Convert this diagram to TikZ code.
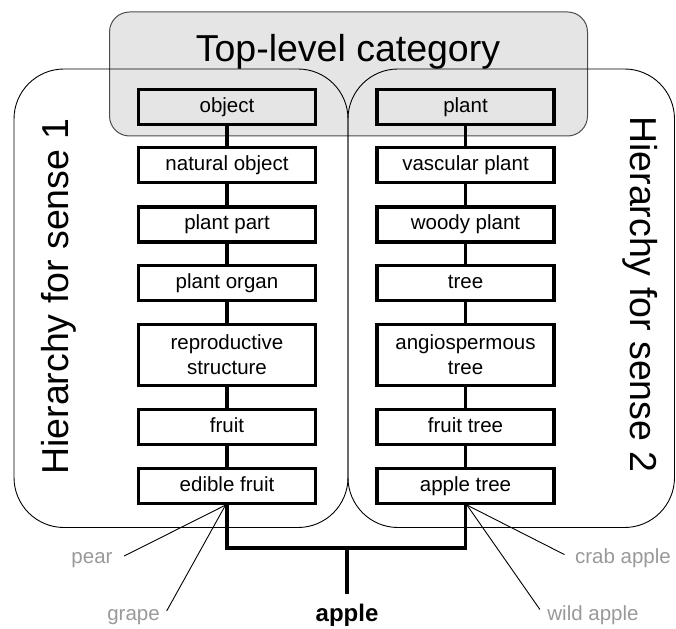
\documentclass[tikz,border=0pt]{standalone}
\usepackage{fontspec}
\setmainfont{Liberation Sans}
\begin{document}
\begin{tikzpicture}[x=1pt,y=-1pt,
  catbox/.style={draw=black!70, fill=black!10, line width=1pt, rounded corners=20pt},
  sensebox/.style={draw=black, line width=0.9pt, rounded corners=50pt},
  concept/.style={draw=black, line width=3.2pt, minimum width=177pt, minimum height=35pt,
    inner sep=0pt, align=center, font=\fontsize{20.5}{25}\selectfont},
  oneline/.style={concept, text height=15pt, text depth=4.3pt},
  link/.style={draw=black, line width=3.2pt},
  heading/.style={font=\fontsize{37.5}{44}\selectfont},
  hyponym/.style={text=black!40, font=\fontsize{20.5}{24}\selectfont},
  hypolink/.style={draw=black, line width=0.9pt}
]
\useasboundingbox (0,0) rectangle (676,628);

% top-level category band
\draw[catbox] (109.5,12) rectangle (587.5,136);
\node[heading, anchor=base] (top) at (348,62) {Top-level category};

% the two sense hierarchies
\draw[sensebox] (14,69) rectangle (348,527.5);
\draw[sensebox] (348,69) rectangle (674.5,527.5);
\node[heading, rotate=90, anchor=base] (sense1) at (68,296.5) {Hierarchy for sense 1};
\node[heading, rotate=-90, anchor=base] (sense2) at (630,294.5) {Hierarchy for sense 2};

% sense 1 chain
\node[oneline] (obj) at (227,107) {object};
\node[oneline] (nat) at (227,165) {natural object};
\node[oneline] (ppart) at (227,224.5) {plant part};
\node[oneline] (porg) at (227,283) {plant organ};
\node[concept, minimum height=61pt] (repr) at (227,355) {reproductive\\structure};
\node[oneline] (fruit) at (227,427) {fruit};
\node[oneline] (ef) at (227,486) {edible fruit};

% sense 2 chain
\node[oneline] (plant) at (465.5,107) {plant};
\node[oneline] (vasc) at (465.5,165) {vascular plant};
\node[oneline] (woody) at (465.5,224.5) {woody plant};
\node[oneline] (tree) at (465.5,283) {tree};
\node[concept, minimum height=61pt] (angio) at (465.5,355) {angiospermous\\tree};
\node[oneline] (ftree) at (465.5,427) {fruit tree};
\node[oneline] (at) at (465.5,486) {apple tree};

\draw[link] (obj) -- (nat);
\draw[link] (nat) -- (ppart);
\draw[link] (ppart) -- (porg);
\draw[link] (porg) -- (repr);
\draw[link] (repr) -- (fruit);
\draw[link] (fruit) -- (ef);

\draw[link] (plant) -- (vasc);
\draw[link] (vasc) -- (woody);
\draw[link] (woody) -- (tree);
\draw[link] (tree) -- (angio);
\draw[link] (angio) -- (ftree);
\draw[link] (ftree) -- (at);

% the word and its two senses
\node[font=\bfseries\fontsize{24}{28}\selectfont, anchor=base] (apple) at (347,621) {apple};
\coordinate (join) at (347,548);
\draw[link] (ef.south) |- (join) -| (at.south);
\draw[link, shorten >=6pt] (join) -- (apple.north);

% sibling words
\node[hyponym, anchor=base] (pear) at (92,563.5) {pear};
\node[hyponym, anchor=base] (grape) at (133.5,620.5) {grape};
\node[hyponym, anchor=base] (crab) at (623,563.5) {crab apple};
\node[hyponym, anchor=base] (wild) at (593,620.5) {wild apple};

\draw[hypolink, shorten <=9pt] (pear.east) -- ([xshift=-1.5pt]ef.south);
\draw[hypolink, shorten <=7pt] (grape.east) -- ([xshift=-1.5pt]ef.south);
\draw[hypolink, shorten <=8pt] (crab.west) -- ([xshift=1.5pt]at.south);
\draw[hypolink, shorten <=7pt] (wild.west) -- ([xshift=1.5pt]at.south);
\end{tikzpicture}
\end{document}
